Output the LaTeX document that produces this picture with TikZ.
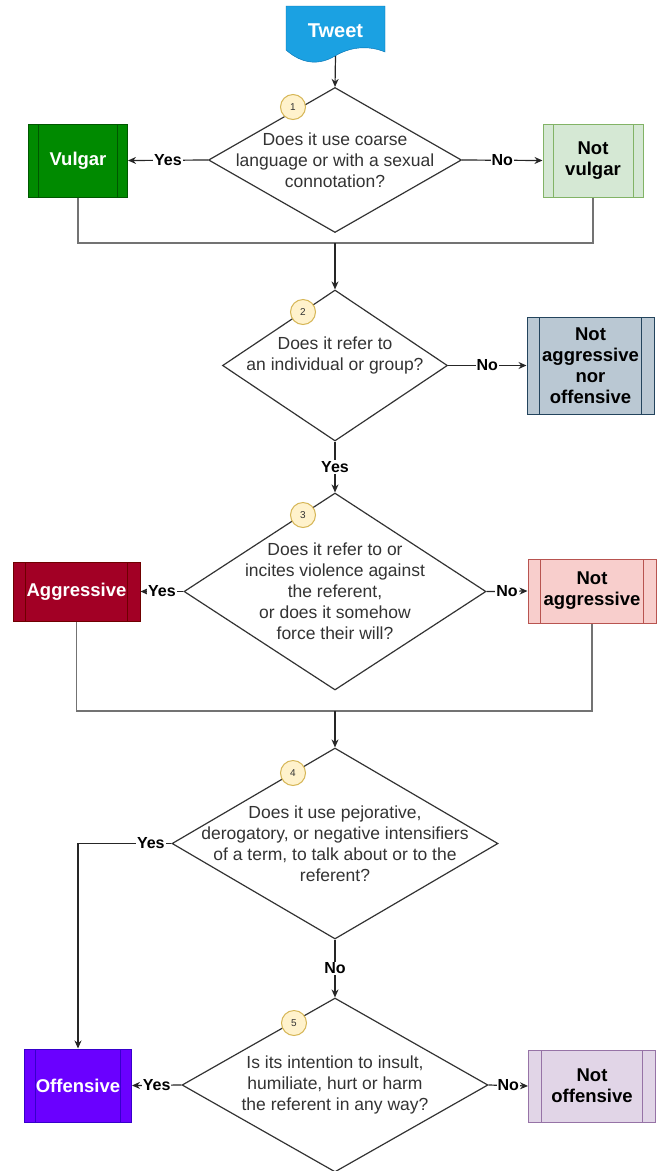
\documentclass[tikz,border=0pt]{standalone}
\usepackage{fontspec}
\setmainfont{Liberation Sans}
\usetikzlibrary{shapes.geometric,arrows.meta,calc}

\definecolor{tweetFill}{HTML}{1BA1E2}
\definecolor{tweetLine}{HTML}{006EAF}
\definecolor{vulgFill}{HTML}{008A00}
\definecolor{vulgLine}{HTML}{005700}
\definecolor{nvulgFill}{HTML}{D5E8D4}
\definecolor{nvulgLine}{HTML}{82B366}
\definecolor{nanoFill}{HTML}{BAC8D3}
\definecolor{nanoLine}{HTML}{23445D}
\definecolor{aggFill}{HTML}{A20025}
\definecolor{aggLine}{HTML}{6F0000}
\definecolor{naggFill}{HTML}{F8CECC}
\definecolor{naggLine}{HTML}{B85450}
\definecolor{offFill}{HTML}{6A00FF}
\definecolor{offLine}{HTML}{3700CC}
\definecolor{noffFill}{HTML}{E1D5E7}
\definecolor{noffLine}{HTML}{9673A6}
\definecolor{badgeFill}{HTML}{FFF2CC}
\definecolor{badgeLine}{HTML}{D6B656}
\definecolor{qGrey}{HTML}{333333}

\def\qFont{\fontsize{17.5}{21}\selectfont}
\def\bFont{\fontsize{18.5}{21}\selectfont\bfseries}

\begin{document}
\begin{tikzpicture}[x=1pt, y=-1pt, >={Stealth[length=8pt,width=7pt]},
    decision/.style={diamond, draw=qGrey, line width=1.2pt, fill=white, inner sep=0pt},
    qtext/.style={align=center, font=\qFont, text=qGrey},
    outcome/.style 2 args={rectangle, fill=#1, draw=#2, line width=1pt,
      align=center, font=\bFont,
      path picture={
        \draw[#2, line width=1pt]
          ($(path picture bounding box.north west)!0.1!(path picture bounding box.north east)$) --
          ($(path picture bounding box.south west)!0.1!(path picture bounding box.south east)$)
          ($(path picture bounding box.north west)!0.9!(path picture bounding box.north east)$) --
          ($(path picture bounding box.south west)!0.9!(path picture bounding box.south east)$);
      }},
    badge/.style={circle, fill=badgeFill, draw=badgeLine, line width=1pt,
      minimum size=25pt, inner sep=0pt, text=qGrey, font=\fontsize{10}{12}\selectfont},
    edgelbl/.style={fill=white, inner sep=1pt, font=\fontsize{16}{18}\selectfont\bfseries},
    arrowline/.style={->, line width=1.2pt, draw=black!85},
    mergeline/.style={line width=1.2pt, draw=black!55}]

  \useasboundingbox (0,0) rectangle (659,1171);

  % start
  \fill[tweetFill, draw=tweetLine] (286,6) -- (385,6) -- (385,52)
    .. controls (368,45) and (350,47) .. (335,56)
    .. controls (320,65) and (303,65) .. (286,50) -- cycle;
  \node[text=white, font=\fontsize{20}{22}\selectfont\bfseries,
    minimum width=99, minimum height=50] (tweet) at (335.5,31) {Tweet};

  % questions
  \node[decision, minimum width=253, minimum height=145,
    label={[qtext]center:{Does it use coarse\\language or with a sexual\\connotation?}}] (d1) at (335,160) {};
  \node[decision, minimum width=225, minimum height=151,
    label={[qtext, yshift=10pt]center:{Does it refer to\\an individual or group?}}] (d2) at (335,365.5) {};
  \node[decision, minimum width=302, minimum height=197,
    label={[qtext]center:{Does it refer to or\\incites violence against\\the referent,\\or does it somehow\\force their will?}}] (d3) at (335,591.5) {};
  \node[decision, minimum width=326, minimum height=191,
    label={[qtext]center:{Does it use pejorative,\\derogatory, or negative intensifiers\\of a term, to talk about or to the\\referent?}}] (d4) at (335,843.5) {};
  \node[decision, minimum width=306, minimum height=174,
    label={[qtext]center:{Is its intention to insult,\\humiliate, hurt or harm\\the referent in any way?}}] (d5) at (335,1085) {};

  \foreach \n/\x/\y in {1/293/107, 2/303/312, 3/303/515, 4/293/773, 5/294/1023}
    \node[badge] (b\n) at (\x,\y) {\n};

  % outcomes
  \node[outcome={vulgFill}{vulgLine}, text=white, minimum width=99, minimum height=73] (vulgar) at (78,160.5) {Vulgar};
  \node[outcome={nvulgFill}{nvulgLine}, minimum width=100, minimum height=73] (notvulgar) at (593,160.5) {Not\\vulgar};
  \node[outcome={nanoFill}{nanoLine}, minimum width=127, minimum height=97] (notany) at (590.5,365.5) {Not\\aggressive\\nor\\offensive};
  \node[outcome={aggFill}{aggLine}, text=white, minimum width=127, minimum height=59] (aggressive) at (76.5,591.5) {Aggressive};
  \node[outcome={naggFill}{naggLine}, minimum width=128, minimum height=64] (notaggr) at (592,591) {Not\\aggressive};
  \node[outcome={offFill}{offLine}, text=white, minimum width=107, minimum height=73] (offensive) at (78,1085.5) {Offensive};
  \node[outcome={noffFill}{noffLine}, minimum width=127, minimum height=72] (notoff) at (592,1086) {Not\\offensive};

  % connectors
  \draw[arrowline] (tweet.south) -- (d1.north);
  \draw[arrowline] (d1.west) -- node[edgelbl] {Yes} (vulgar.east);
  \draw[arrowline] (d1.east) -- node[edgelbl] {No} (notvulgar.west);

  \coordinate (j1) at (335,243);
  \draw[mergeline] (vulgar.south) |- (j1) -| (notvulgar.south);
  \draw[arrowline] (j1) -- (d2.north);

  \draw[arrowline] (d2.east) -- node[edgelbl] {No} (notany.west);
  \draw[arrowline] (d2.south) -- node[edgelbl] {Yes} (d3.north);

  \draw[arrowline] (d3.west) -- node[edgelbl] {Yes} (aggressive.east);
  \draw[arrowline] (d3.east) -- node[edgelbl] {No} (notaggr.west);

  \coordinate (j2) at (335,711);
  \draw[mergeline] (aggressive.south) |- (j2) -| (notaggr.south);
  \draw[arrowline] (j2) -- (d4.north);

  \draw[arrowline] (d4.west) -| node[edgelbl, pos=0.11] {Yes} (offensive.north);
  \draw[arrowline] (d4.south) -- node[edgelbl] {No} (d5.north);

  \draw[arrowline] (d5.west) -- node[edgelbl] {Yes} (offensive.east);
  \draw[arrowline] (d5.east) -- node[edgelbl] {No} (notoff.west);
\end{tikzpicture}
\end{document}
